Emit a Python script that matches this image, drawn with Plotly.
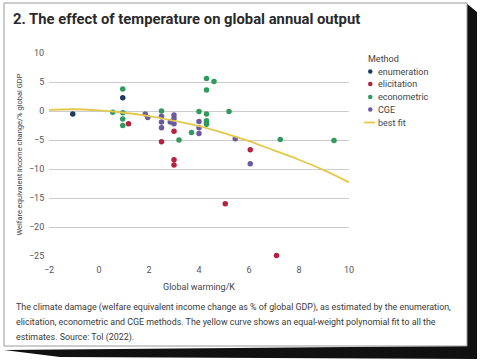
import plotly.graph_objects as go

# ---- data ----
enum_x = [-1.05, 0.95]
enum_y = [-0.5, 2.3]
elic_x = [1.18, 2.5, 3.0, 3.0, 3.0, 5.05, 6.05, 7.1]
elic_y = [-2.2, -5.3, -3.5, -8.4, -9.3, -16.0, -6.7, -24.9]
econ_x = [0.55, 0.95, 0.95, 0.95, 0.95, 2.5, 3.2, 3.7, 4.0, 4.3, 4.3, 4.3, 4.3, 4.3, 4.3, 4.6, 5.2, 7.25, 9.4]
econ_y = [-0.2, 3.8, -0.3, -1.4, -2.5, 0.0, -5.0, -3.7, -0.1, 5.6, 3.6, -0.5, -1.7, -2.0, -2.3, 5.1, -0.1, -4.9, -5.1]
cge_x = [1.85, 1.95, 2.5, 2.5, 2.5, 2.85, 3.0, 3.0, 3.0, 4.0, 4.0, 4.0, 5.45, 6.05]
cge_y = [-0.5, -1.1, -0.9, -1.9, -2.9, -1.9, -0.7, -1.3, -2.2, -1.8, -2.9, -3.9, -4.8, -9.1]
fit_x = [-2, -1, 0, 1, 2, 3, 4, 5, 6, 7, 8, 9, 10]
fit_y = [0.2, 0.3, 0.1, -0.3, -0.9, -1.7, -2.6, -3.8, -5.2, -6.8, -8.4, -10.2, -12.3]
x_ticks = [-2, 0, 2, 4, 6, 8, 10]
y_ticks = [10, 5, 0, -5, -10, -15, -20, -25]

methods = ["enumeration", "elicitation", "econometric", "CGE"]
colors = ["#1d3a5f", "#b5213e", "#2f9a5c", "#6b5a9e"]
FIT_COLOR = "#e3c84c"

W, H = 480, 364
L, R, T, B = 49, 131, 53, 108
PW, PH = W - L - R, H - T - B

def px(x):
    return (x - L) / PW

def py(y):
    return (H - B - y) / PH

FONT = "Roboto"

fig = go.Figure()
for (xs, ys), name, c in zip([(enum_x, enum_y), (elic_x, elic_y), (econ_x, econ_y), (cge_x, cge_y)], methods, colors):
    fig.add_trace(go.Scatter(x=xs, y=ys, mode="markers", name=name,
                             marker=dict(color=c, size=5.5), cliponaxis=False))
fig.add_trace(go.Scatter(x=fit_x, y=fit_y, mode="lines", name="best fit",
                         line=dict(color=FIT_COLOR, width=1.8, shape="spline")))

shapes = []
# card shadow
shapes.append(dict(type="path", xref="paper", yref="paper", layer="below",
                   path="M {},{} L {},{} L {},{} L {},{} L {},{} L {},{} Z".format(
                       px(466), py(3), px(477), py(12), px(477), py(359),
                       px(60), py(357), px(4), py(350), px(466), py(346)),
                   fillcolor="#111111", line=dict(width=0)))
shapes.append(dict(type="rect", xref="paper", yref="paper", layer="below",
                   x0=px(4), x1=px(467), y0=py(346), y1=py(3),
                   fillcolor="white", line=dict(color="#9a9a9a", width=1)))

annotations = []
annotations.append(dict(text="<b>2. The effect of temperature on global annual output</b>",
                        xref="paper", yref="paper", x=px(11), y=py(19), xanchor="left", yanchor="middle",
                        showarrow=False, font=dict(family="Roboto", size=14.8, color="#2a2a2a")))
cap = ["The climate damage (welfare equivalent income change as % of global GDP), as estimated by the enumeration,",
       "elicitation, econometric and CGE methods. The yellow curve shows an equal-weight polynomial fit to all the",
       "estimates. Source: Tol (2022)."]
for i, line in enumerate(cap):
    annotations.append(dict(text=line, xref="paper", yref="paper", x=px(14), y=py(307 + 15 * i),
                            xanchor="left", yanchor="middle", showarrow=False,
                            font=dict(family="Roboto", size=8.9, color="#3a3a3a")))
# legend (manual)
annotations.append(dict(text="Method", xref="paper", yref="paper", x=px(366), y=py(59),
                        xanchor="left", yanchor="middle", showarrow=False,
                        font=dict(family=FONT, size=9, color="#444")))
leg_y = [71.5, 84, 97, 109.5]
for name, c, yy in zip(methods, colors, leg_y):
    shapes.append(dict(type="circle", xref="paper", yref="paper",
                       x0=px(368), x1=px(372.5), y0=py(yy + 2.25), y1=py(yy - 2.25),
                       fillcolor=c, line=dict(width=0)))
    annotations.append(dict(text=name, xref="paper", yref="paper", x=px(376), y=py(yy),
                            xanchor="left", yanchor="middle", showarrow=False,
                            font=dict(family=FONT, size=9, color="#444")))
shapes.append(dict(type="line", xref="paper", yref="paper", x0=px(364), x1=px(375),
                   y0=py(122.5), y1=py(122.5), line=dict(color=FIT_COLOR, width=1.8)))
annotations.append(dict(text="best fit", xref="paper", yref="paper", x=px(376), y=py(122.5),
                        xanchor="left", yanchor="middle", showarrow=False,
                        font=dict(family=FONT, size=9, color="#444")))

fig.update_layout(
    width=W, height=H, margin=dict(l=L, r=R, t=T, b=B),
    paper_bgcolor="white", plot_bgcolor="white", showlegend=False,
    shapes=shapes, annotations=annotations,
    font=dict(family=FONT, size=9, color="#555"),
    xaxis=dict(range=[-2, 10], tickvals=x_ticks, showgrid=False, zeroline=False, showline=False,
               automargin=False, ticks="outside", ticklen=5, tickcolor="rgba(0,0,0,0)",
               tickfont=dict(size=9, color="#555"),
               title=dict(text="Global warming/K", font=dict(size=9, color="#444"), standoff=9)),
    yaxis=dict(range=[-25, 10], tickvals=y_ticks, showgrid=True, gridcolor="#cccccc", gridwidth=1,
               automargin=False, zeroline=False, showline=False, ticks="outside", ticklen=2,
               tickcolor="rgba(0,0,0,0)", tickfont=dict(size=9, color="#555"),
               title=dict(text="Welfare equivalent income change/% global GDP",
                          font=dict(size=7.5, color="#444"), standoff=5)),
)
fig.write_html("out.html", config={"displayModeBar": False},
               post_script="document.body.style.margin='0';document.body.style.overflow='hidden';")
